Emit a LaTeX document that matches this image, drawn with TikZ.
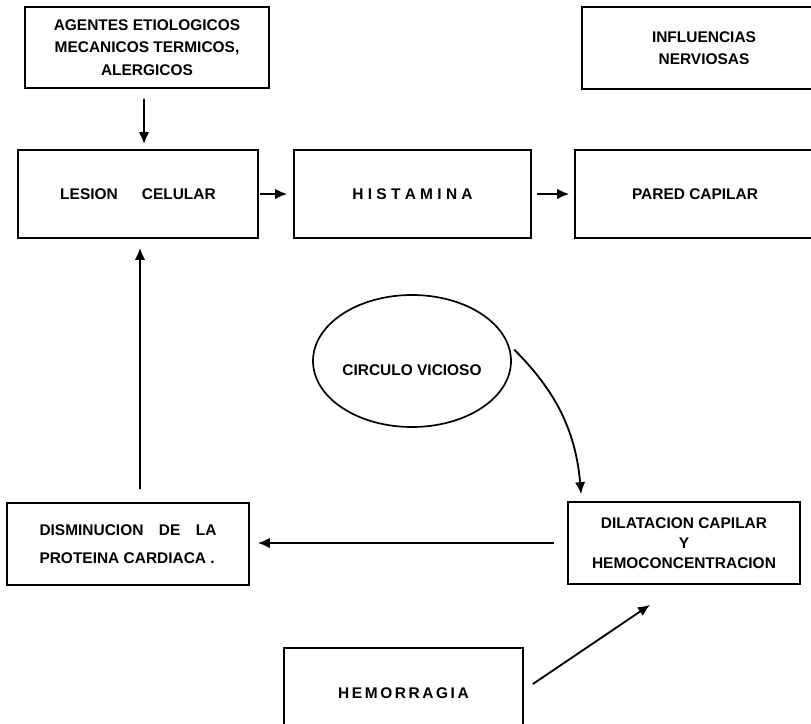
\documentclass[tikz,border=0pt]{standalone}
\usepackage{fontspec}
\setmainfont{Liberation Sans}
\usetikzlibrary{arrows.meta, positioning, shapes.geometric}

\begin{document}
\begin{tikzpicture}[
    x=0.25mm, y=-0.25mm,
    font=\bfseries\fontsize{11}{16}\selectfont,
    caja/.style={draw, line width=1.2pt, align=center, inner sep=2pt},
    flecha/.style={-{Latex[length=3mm, width=2.6mm]}, line width=1.3pt},
]
\useasboundingbox (0,0) rectangle (811,723);
\clip (0,0) rectangle (811,723);

% ============ FILA SUPERIOR ============
\node[caja, minimum width=61mm, minimum height=20.25mm] (agentes) at (147,47.5)
    {AGENTES ETIOLOGICOS\\MECANICOS TERMICOS,\\ALERGICOS};
\node[caja, minimum width=61mm, minimum height=20.5mm] (influencias) at (704,48)
    {INFLUENCIAS\\NERVIOSAS};

\node[caja, minimum width=60mm, minimum height=22mm] (lesion) at (138,194)
    {LESION \quad{} CELULAR};
\node[caja, minimum width=59.25mm, minimum height=22mm] (histamina) at (412.5,194)
    {H I S T A M I N A};
\node[caja, minimum width=60mm, minimum height=22mm] (pared) at (695,194)
    {PARED CAPILAR};

\draw[flecha] ([xshift=-0.75mm, yshift=-2.5mm]agentes.south) -- ([xshift=1.5mm, yshift=1.25mm]lesion.north);
\draw[flecha, shorten <=0.25mm, shorten >=1.5mm] (lesion.east) -- (histamina.west);
\draw[flecha, shorten <=1.25mm, shorten >=1.25mm] (histamina.east) -- (pared.west);

% ============ CIRCULO VICIOSO ============
\node[draw, ellipse, line width=1.2pt, minimum width=49.5mm, minimum height=33mm, inner sep=0pt,
      text height=20pt, text depth=0pt] (circulo) at (412,361) {CIRCULO VICIOSO};

% ============ FILA INFERIOR ============
\node[caja, align=left, minimum width=60.5mm, minimum height=20.5mm] (disminucion) at (128,544)
    {DISMINUCION\quad DE\quad LA\\[4pt]PROTEINA CARDIACA .};
\node[caja, minimum width=58mm, minimum height=20.5mm] (dilatacion) at (684,543)
    {DILATACION CAPILAR\\[-2pt]Y\\[-2pt]HEMOCONCENTRACION};
\node[caja, minimum width=59.75mm, minimum height=22.5mm] (hemorragia) at (403.5,693)
    {H\,E\,M\,O\,R\,R\,A\,G\,I\,A};

\draw[flecha, shorten <=2mm] (circulo.10) to[out=-45, in=95] ([xshift=3.5mm, yshift=1.75mm]dilatacion.north west);
\draw[flecha, shorten <=3.25mm, shorten >=2mm] (dilatacion.west) -- (dilatacion.west -| disminucion.east);
\draw[flecha] ([xshift=3mm, yshift=3.25mm]disminucion.north) -- ([xshift=0.5mm, yshift=-2.25mm]lesion.south);
\draw[flecha] ([xshift=2.25mm, yshift=2.25mm]hemorragia.east) -- ([xshift=-8.5mm, yshift=-5mm]dilatacion.south);

\end{tikzpicture}
\end{document}
